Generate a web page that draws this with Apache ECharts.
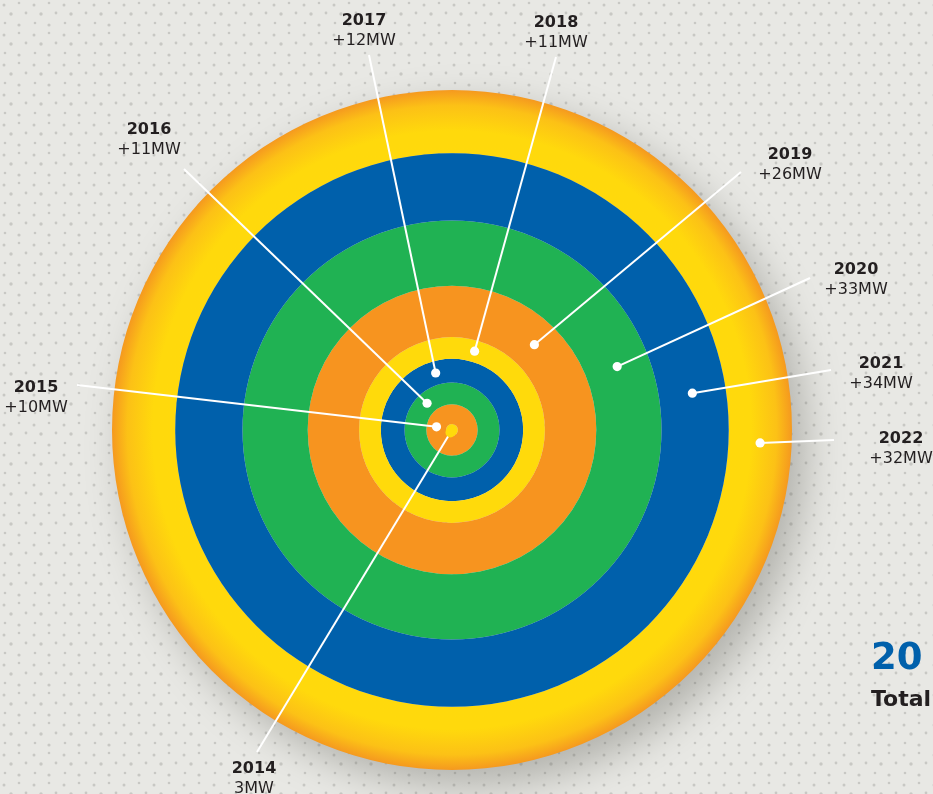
<!DOCTYPE html>
<html>
<head>
<meta charset="utf-8">
<script src="https://cdn.jsdelivr.net/npm/echarts@6.0.0/dist/echarts.min.js"></script>
<style>
  html, body { margin: 0; padding: 0; background: #e8e8e4; }
  #chart { width: 933px; height: 794px; }
</style>
</head>
<body>
<div id="chart"></div>
<script>
// ---- data ----
const years = ['2014', '2015', '2016', '2017', '2018', '2019', '2020', '2021', '2022'];
const addedMW = [3, 10, 11, 12, 11, 26, 33, 34, 32];
const valueLabels = ['3MW', '+10MW', '+11MW', '+12MW', '+11MW', '+26MW', '+33MW', '+34MW', '+32MW'];
// angle (degrees, counter-clockwise from east) at which each year's marker sits
const markerAngles = [239, 168.5, 133, 106, 74, 46, 21, 8.7, 357.6];

// ---- styling / layout ----
const YELLOW = '#FFDA0B', ORANGE = '#F7941F', GREEN = '#20B253', BLUE = '#0060AB';
const ringColors = [YELLOW, ORANGE, GREEN, BLUE, YELLOW, ORANGE, GREEN, BLUE, null];
const outerGradient = {
  type: 'radial', x: 0.5, y: 0.5, r: 0.5,
  colorStops: [
    { offset: 0, color: YELLOW },
    { offset: 0.88, color: '#FFD90C' },
    { offset: 0.955, color: '#FCC116' },
    { offset: 1, color: '#F5991F' }
  ]
};
// leader line end points and label centres (pixels)
const lineEnds = [[257, 752], [77, 385], [184, 169], [369, 55], [556, 57], [741, 172], [810, 278], [831, 370], [834, 440]];
const labelCenters = [[254, 779], [36, 398], [149, 140], [364, 31], [556, 33], [790, 165], [856, 280], [881, 374], [901, 449]];

const FONT = 'DejaVu Sans';
const TEXT = '#231F20';

// background dotted pattern
function makePattern() {
  const c = document.createElement('canvas');
  c.width = 30; c.height = 30;
  const g = c.getContext('2d');
  g.fillStyle = '#e8e8e4';
  g.fillRect(0, 0, 30, 30);
  g.fillStyle = '#c8c8c4';
  const pts = [[4, 5, 1.5], [19, 3, 1.3], [11, 14, 1.7], [26, 13, 1.4], [5, 23, 1.3], [19, 25, 1.6]];
  pts.forEach(p => { g.beginPath(); g.arc(p[0], p[1], p[2], 0, Math.PI * 2); g.fill(); });
  return c;
}

// cumulative values, and radius of the middle of each ring
const cumulative = [];
addedMW.reduce((s, v, i) => (cumulative[i] = s + v), 0);
const total = cumulative[cumulative.length - 1];
const markerData = years.map((y, i) => [cumulative[i] - addedMW[i] / 2, markerAngles[i], i]);

const chart = echarts.init(document.getElementById('chart'));

const barSeries = years.map((y, i) => ({
  type: 'bar',
  name: y,
  coordinateSystem: 'polar',
  polarIndex: 0,
  stack: 'capacity',
  barCategoryGap: '0%',
  barWidth: '100%',
  z: i === years.length - 1 ? 1 : 2,
  silent: true,
  data: [addedMW[i]],
  itemStyle: i === years.length - 1 ? {
    color: outerGradient,
    shadowColor: 'rgba(60,60,50,0.32)',
    shadowBlur: 40,
    shadowOffsetX: 14,
    shadowOffsetY: 16
  } : { color: ringColors[i] }
}));

const option = {
  backgroundColor: { image: makePattern(), repeat: 'repeat' },
  animation: false,
  polar: [
    { center: [452, 430], radius: 340 },
    { center: [452, 430], radius: 340 }
  ],
  angleAxis: [
    { polarIndex: 0, type: 'category', data: ['capacity'], show: false, startAngle: 90 },
    { polarIndex: 1, type: 'value', min: 0, max: 360, startAngle: 0, clockwise: false, show: false }
  ],
  radiusAxis: [
    { polarIndex: 0, type: 'value', min: 0, max: total, show: false },
    { polarIndex: 1, type: 'value', min: 0, max: total, show: false }
  ],
  series: barSeries.concat([{
    type: 'custom',
    coordinateSystem: 'polar',
    polarIndex: 1,
    z: 10,
    silent: true,
    data: markerData,
    renderItem: function (params, api) {
      const i = api.value(2);
      const p = api.coord([api.value(0), api.value(1)]);
      const end = lineEnds[i];
      const lab = labelCenters[i];
      return {
        type: 'group',
        children: [
          { type: 'line', shape: { x1: p[0], y1: p[1], x2: end[0], y2: end[1] },
            style: { stroke: '#ffffff', lineWidth: 2 } },
          { type: 'circle', shape: { cx: p[0], cy: p[1], r: i === 0 ? 5 : 4.6 },
            style: { fill: i === 0 ? YELLOW : '#ffffff' } },
          { type: 'text', x: lab[0], y: lab[1],
            style: {
              text: '{y|' + years[i] + '}\n{v|' + valueLabels[i] + '}',
              align: 'center', verticalAlign: 'middle',
              rich: {
                y: { fontFamily: FONT, fontWeight: 'bold', fontSize: 16, lineHeight: 20, fill: TEXT, align: 'center' },
                v: { fontFamily: FONT, fontWeight: 'normal', fontSize: 16, lineHeight: 20, fill: TEXT, align: 'center' }
              }
            } }
        ]
      };
    }
  }]),
  graphic: [
    { type: 'text', left: 871, top: 641, z: 20,
      style: { text: '20', font: 'bold 37px "DejaVu Sans"', fill: BLUE } },
    { type: 'text', left: 871, top: 689, z: 20,
      style: { text: 'Total', font: 'bold 22px "DejaVu Sans"', fill: TEXT } }
  ]
};
chart.setOption(option);
</script>
</body>
</html>
